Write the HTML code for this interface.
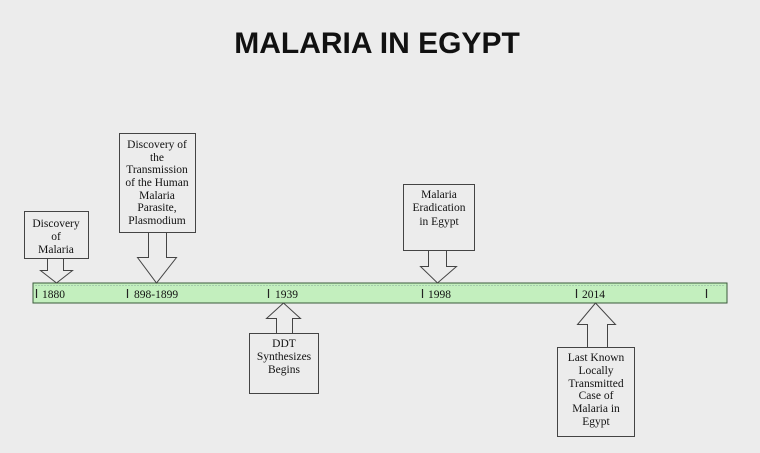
<!DOCTYPE html>
<html><head><style>
html,body{margin:0;padding:0;background:#ececec;}
svg{display:block}
text{font-family:"Liberation Serif",serif;font-size:11.5px;fill:#111;}
</style></head><body>
<svg width="760" height="453" viewBox="0 0 760 453">
<rect width="760" height="453" fill="#ececec"/>
<text x="377" y="53" text-anchor="middle" style="font-family:'Liberation Sans',sans-serif;font-weight:bold;font-size:30px;fill:#111">MALARIA IN EGYPT</text>

<rect x="33" y="283" width="694" height="20" fill="#c3efbe" stroke="#3a5a3a" stroke-width="1"/>
<line x1="35" y1="285.5" x2="725" y2="285.5" stroke="#8a9" stroke-dasharray="2,1" stroke-width="0.6"/>
<g stroke="#222" stroke-width="1.2">
<line x1="36.5" y1="289" x2="36.5" y2="298"/>
<line x1="127.5" y1="289" x2="127.5" y2="298"/>
<line x1="268.5" y1="289" x2="268.5" y2="298"/>
<line x1="422.5" y1="289" x2="422.5" y2="298"/>
<line x1="576.5" y1="289" x2="576.5" y2="298"/>
<line x1="706.5" y1="289" x2="706.5" y2="298"/>
</g>
<g style="font-size:11.5px">
<text x="42" y="298">1880</text>
<text x="134" y="298">898-1899</text>
<text x="275" y="298">1939</text>
<text x="428" y="298">1998</text>
<text x="582" y="298">2014</text>
</g>

<g fill="#ececec" stroke="#444" stroke-width="1">
<rect x="24.5" y="211.5" width="64" height="47"/>
<polygon points="47.5,258.5 63.5,258.5 63.5,270.5 72.5,270.5 56.5,283 40.5,270.5 47.5,270.5"/>
<rect x="119.5" y="133.5" width="76" height="99"/>
<polygon points="148.5,232.5 166.5,232.5 166.5,257.5 176.5,257.5 156.5,283 137.5,257.5 148.5,257.5"/>
<polygon points="276.5,333.5 292.5,333.5 292.5,318.5 300.5,318.5 283.5,303 266.5,318.5 276.5,318.5"/>
<rect x="249.5" y="333.5" width="69" height="60"/>
<rect x="403.5" y="184.5" width="71" height="66"/>
<polygon points="428.5,250.5 446.5,250.5 446.5,266.5 456.5,266.5 437.5,283 420.5,266.5 428.5,266.5"/>
<polygon points="587.5,347.5 607.5,347.5 607.5,324.5 615.5,324.5 595.5,303 577.5,324.5 587.5,324.5"/>
<rect x="557.5" y="347.5" width="77" height="89"/>
</g>

<g text-anchor="middle">
<text x="56" y="227">Discovery</text>
<text x="56" y="240">of</text>
<text x="56" y="253">Malaria</text>

<text x="157" y="148">Discovery of</text>
<text x="157" y="161">the</text>
<text x="157" y="173">Transmission</text>
<text x="157" y="186">of the Human</text>
<text x="157" y="199">Malaria</text>
<text x="157" y="211">Parasite,</text>
<text x="157" y="224">Plasmodium</text>

<text x="284" y="347">DDT</text>
<text x="284" y="360">Synthesizes</text>
<text x="284" y="373">Begins</text>

<text x="439" y="198">Malaria</text>
<text x="439" y="211">Eradication</text>
<text x="439" y="225">in Egypt</text>

<text x="596" y="361">Last Known</text>
<text x="596" y="374">Locally</text>
<text x="596" y="387">Transmitted</text>
<text x="596" y="399">Case of</text>
<text x="596" y="412">Malaria in</text>
<text x="596" y="425">Egypt</text>
</g>
</svg>
</body></html>
